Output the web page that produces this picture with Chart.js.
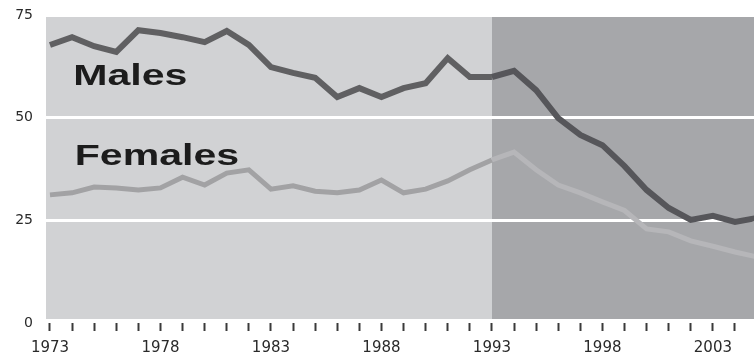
<!DOCTYPE html>
<html>
<head>
<meta charset="utf-8">
<script src="https://cdn.jsdelivr.net/npm/chart.js@4.4.1/dist/chart.umd.min.js"></script>
<style>
  html, body { margin: 0; padding: 0; background: #fff; overflow: hidden; }
  #wrap { position: relative; width: 754px; height: 352px; }
  #chart { display: block; }
</style>
</head>
<body>
<div id="wrap"><canvas id="chart"></canvas></div>
<script>
const years = [1973, 1974, 1975, 1976, 1977, 1978, 1979, 1980, 1981, 1982, 1983, 1984, 1985, 1986, 1987, 1988, 1989,
  1990, 1991, 1992, 1993, 1994, 1995, 1996, 1997, 1998, 1999, 2000, 2001, 2002, 2003, 2004, 2005];
const males = [67.7, 69.6, 67.4, 66.0, 71.3, 70.6, 69.6, 68.4, 71.1, 67.7, 62.3, 60.9, 59.7, 55.0, 57.2, 55.0, 57.2,
  58.4, 64.5, 59.9, 59.9, 61.4, 56.7, 49.9, 45.8, 43.3, 38.2, 32.4, 28.0, 25.1, 26.1, 24.6, 25.6];
const females = [31.2, 31.7, 33.1, 32.9, 32.4, 32.9, 35.5, 33.6, 36.5, 37.3, 32.6, 33.4, 32.1, 31.7, 32.4, 34.8, 31.7,
  32.6, 34.6, 37.3, 39.7, 41.6, 37.3, 33.6, 31.7, 29.5, 27.4, 22.9, 22.2, 20.0, 18.7, 17.3, 16.1];
const seriesNames = ['Males', 'Females'];
const yTicks = [0, 25, 50, 75];
const labelYears = [1973, 1978, 1983, 1988, 1993, 1998, 2003];
const shadeFrom = 1993;

const FONT = "'DejaVu Sans', 'Liberation Sans', Arial, sans-serif";

// grey panels behind the lines, split at 1993
const panels = {
  id: 'panels',
  beforeDraw(chart) {
    const { ctx, chartArea: a, scales: { x } } = chart;
    const split = x.getPixelForValue(shadeFrom);
    ctx.save();
    ctx.fillStyle = '#d1d2d4';
    ctx.fillRect(a.left, a.top + 2, split - a.left, a.bottom - a.top - 6);
    ctx.fillStyle = '#a6a7aa';
    ctx.fillRect(split, a.top + 2, a.right - split, a.bottom - a.top - 6);
    ctx.restore();
  }
};

// the big "Males" / "Females" captions, drawn a bit wide like the original
const captions = {
  id: 'captions',
  afterDatasetsDraw(chart) {
    const { ctx, scales: { x, y } } = chart;
    const spots = [[1974.05, 58.0], [1974.12, 38.5]];
    ctx.save();
    ctx.fillStyle = '#1c1c1c';
    ctx.font = "bold 30px 'Liberation Sans', Arial, sans-serif";
    ctx.textBaseline = 'alphabetic';
    seriesNames.forEach((name, i) => {
      const px = x.getPixelForValue(spots[i][0]);
      const py = y.getPixelForValue(spots[i][1]);
      ctx.save();
      ctx.translate(px, py);
      ctx.scale(1.37, 1);
      ctx.fillText(name, 0, 0);
      ctx.restore();
    });
    ctx.restore();
  }
};

const splitColor = (before, after) => (c) => (c.p0.parsed.x >= shadeFrom ? after : before);

new Chart(document.getElementById('chart'), {
  type: 'line',
  data: {
    datasets: [
      {
        label: seriesNames[0],
        data: years.map((yr, i) => ({ x: yr, y: males[i] })),
        borderColor: '#606062',
        borderWidth: 6,
        segment: { borderColor: splitColor('#606062', '#56565a') },
        pointRadius: 0,
        tension: 0,
      },
      {
        label: seriesNames[1],
        data: years.map((yr, i) => ({ x: yr, y: females[i] })),
        borderColor: '#a2a2a4',
        borderWidth: 5,
        segment: { borderColor: splitColor('#a2a2a4', '#b6b6b9') },
        pointRadius: 0,
        tension: 0,
      },
    ],
  },
  options: {
    responsive: true,
    maintainAspectRatio: false,
    animation: false,
    layout: { padding: { top: 15, right: 0, left: 0, bottom: 0 } },
    plugins: { legend: { display: false }, tooltip: { enabled: false } },
    scales: {
      x: {
        type: 'linear',
        min: 1972.82,
        max: 2004.86,
        afterBuildTicks: (scale) => { scale.ticks = years.map((v) => ({ value: v })); },
        afterFit: (scale) => { scale.height = 29; scale.paddingLeft = 0; scale.paddingRight = 0; },
        border: { display: false },
        grid: { drawOnChartArea: false, drawTicks: true, tickLength: 8, tickWidth: 2, tickColor: '#3a3a3a' },
        ticks: {
          autoSkip: false,
          maxRotation: 0,
          padding: 8,
          color: '#2a2a2a',
          font: { family: FONT, size: 15 },
          callback: (v) => (labelYears.includes(v) ? String(v) : ''),
        },
      },
      y: {
        min: 0,
        max: 75,
        afterBuildTicks: (scale) => { scale.ticks = yTicks.map((v) => ({ value: v })); },
        afterFit: (scale) => { scale.width = 46; scale.paddingTop = 0; scale.paddingBottom = 0; },
        border: { display: false },
        grid: {
          drawTicks: false,
          lineWidth: 3,
          color: (c) => (c.tick && (c.tick.value === 25 || c.tick.value === 50) ? '#ffffff' : 'rgba(0,0,0,0)'),
        },
        ticks: {
          padding: 13,
          color: '#2a2a2a',
          font: { family: FONT, size: 14 },
        },
      },
    },
  },
  plugins: [panels, captions],
});
</script>
</body>
</html>
